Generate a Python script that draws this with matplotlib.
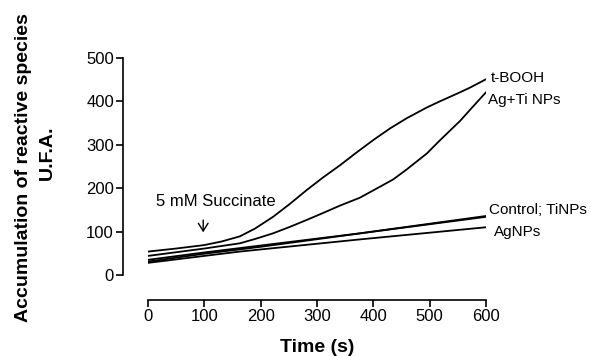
import matplotlib
matplotlib.use("Agg")
import matplotlib.pyplot as plt

plt.rcParams['font.family'] = ['Liberation Sans', 'DejaVu Sans']

# Data
t_booh_t = [0, 50, 100, 130, 163, 190, 222, 252, 282, 311, 341, 370, 400, 430, 459, 495, 518, 554, 572, 600]
t_booh_v = [54, 61, 69, 77, 89, 107, 134, 164, 196, 225, 253, 282, 311, 338, 361, 386, 400, 421, 432, 451]

agti_t = [0, 100, 163, 190, 222, 252, 282, 311, 341, 376, 400, 435, 459, 495, 518, 554, 572, 600]
agti_v = [44, 61, 73, 83, 96, 111, 127, 143, 160, 178, 195, 220, 243, 280, 310, 355, 381, 421]

control_t = [0, 100, 163, 376, 600]
control_v = [35, 52, 62, 96, 136]

tinps_t = [0, 100, 200, 400, 600]
tinps_v = [31, 49, 65, 100, 134]

agnps_t = [0, 100, 163, 376, 600]
agnps_v = [28, 44, 54, 82, 110]

series = [
    ("t-BOOH", t_booh_t, t_booh_v),
    ("Ag+Ti NPs", agti_t, agti_v),
    ("Control", control_t, control_v),
    ("TiNPs", tinps_t, tinps_v),
    ("AgNPs", agnps_t, agnps_v),
]

xticks = [0, 100, 200, 300, 400, 500, 600]
yticks = [0, 100, 200, 300, 400, 500]

fig = plt.figure(figsize=(5.91, 3.56), dpi=100)
ax = fig.add_axes([0.2504, 0.2275, 0.5719, 0.6096])

for name, tx, vy in series:
    ax.plot(tx, vy, color='black', lw=1.3)

ax.set_xlim(0, 600)
ax.set_ylim(0, 500)
ax.set_xticks(xticks)
ax.set_yticks(yticks)

for s in ['top', 'right']:
    ax.spines[s].set_visible(False)
ax.spines['left'].set_position(('outward', 18))
ax.spines['bottom'].set_position(('outward', 18))
ax.spines['left'].set_linewidth(1.2)
ax.spines['bottom'].set_linewidth(1.2)
ax.tick_params(axis='both', direction='out', length=5, width=1.2,
               labelsize=12, colors='black', pad=1.5)

ax.set_xlabel("Time (s)", fontsize=14, fontweight='bold', labelpad=11)

fig.text(0.039, 0.528, "Accumulation of reactive species", rotation=90,
         fontsize=14, fontweight='bold', ha='center', va='center')
fig.text(0.080, 0.570, "U.F.A.", rotation=90,
         fontsize=14, fontweight='bold', ha='center', va='center')

# curve labels
lab_kw = dict(fontsize=11, ha='left', va='center', clip_on=False)
ax.text(609, 454, "t-BOOH", **lab_kw)
ax.text(604, 403, "Ag+Ti NPs", **lab_kw)
ax.text(605, 150, "Control; TiNPs", **lab_kw)
ax.text(614, 99, "AgNPs", **lab_kw)

ax.text(120, 170, "5 mM Succinate", fontsize=12, ha='center', va='center')
ax.annotate("", xy=(98, 92), xytext=(98, 133),
            arrowprops=dict(arrowstyle='->, head_length=0.4, head_width=0.25',
                            mutation_scale=14, lw=1.0, color='black'))

fig.savefig("out.png", dpi=100)
